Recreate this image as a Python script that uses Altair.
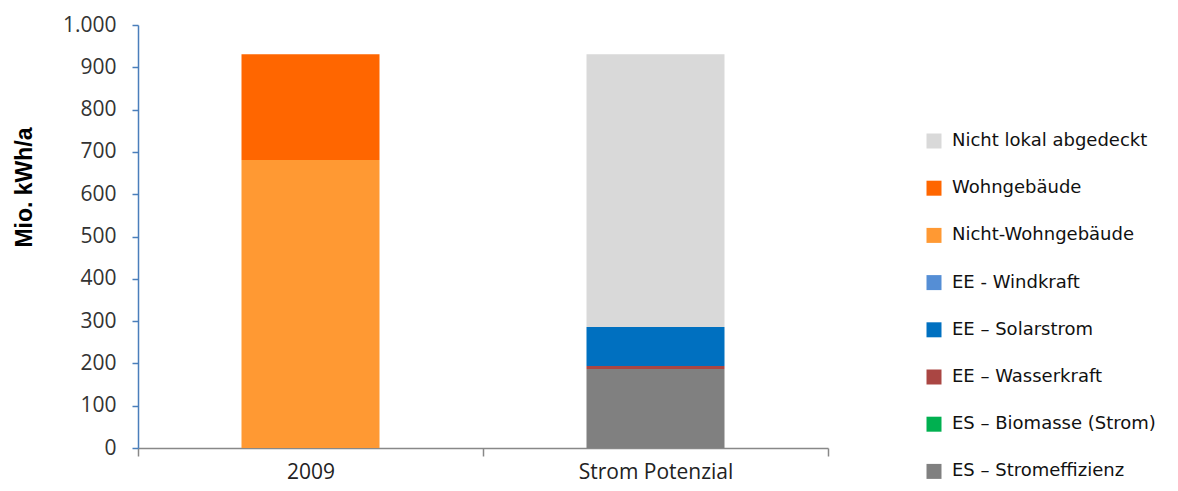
import altair as alt
import pandas as pd

categories = ["2009", "Strom Potenzial"]
series = ["Nicht lokal abgedeckt", "Wohngebäude", "Nicht-Wohngebäude", "EE - Windkraft",
          "EE – Solarstrom", "EE – Wasserkraft", "ES – Biomasse (Strom)", "ES – Stromeffizienz"]
colors = ["#d9d9d9", "#ff6600", "#ff9933", "#558ed5", "#0070c0", "#aa4643", "#00b050", "#808080"]
stack_rank = [7, 6, 5, 4, 3, 2, 1, 0]
values_2009 = [0, 250, 681, 0, 0, 0, 0, 0]
values_potenzial = [645, 0, 0, 0, 92, 7, 0, 187]

rows = []
for cat, vals in zip(categories, [values_2009, values_potenzial]):
    for s, v, r in zip(series, vals, stack_rank):
        rows.append({"Kategorie": cat, "Serie": s, "Wert": v, "rank": r})
df = pd.DataFrame(rows)

font_title = "Liberation Sans"
font_ticks = "Open Sans"
font_legend = "DejaVu Sans"

chart = alt.Chart(df).mark_bar(width=138).encode(
    x=alt.X("Kategorie:N", sort=categories,
            scale=alt.Scale(paddingInner=0, paddingOuter=0),
            axis=alt.Axis(title=None, labelAngle=0, labelFontSize=21, labelFont=font_ticks,
                          labelColor="#222", domainColor="#888888", tickColor="#888888",
                          tickSize=8, tickBand="extent", labelPadding=5, domainWidth=1.5,
                          tickWidth=1.5)),
    y=alt.Y("Wert:Q", stack="zero",
            scale=alt.Scale(domain=[0, 1000], nice=False),
            axis=alt.Axis(title="Mio. kWh/a", values=list(range(0, 1001, 100)),
                          labelExpr="replace(format(datum.value, ','), ',', '.')",
                          labelFontSize=21, labelFont=font_ticks, labelColor="#333",
                          domainColor="#4a7ebb", tickColor="#4a7ebb", tickSize=6,
                          labelPadding=16, grid=False, titleFont=font_title,
                          titleFontSize=23, titleFontWeight="bold", titleColor="#000",
                          titleAngle=-90, titleX=-114, titleY=162, titleAlign="center",
                          titleBaseline="middle", domainWidth=1.5, tickWidth=1.5)),
    color=alt.Color("Serie:N", scale=alt.Scale(domain=series, range=colors),
                    legend=alt.Legend(title=None, orient="none", legendX=787, legendY=107,
                                      symbolType="square", symbolSize=225,
                                      symbolStrokeWidth=0, labelFontSize=18,
                                      labelFont=font_legend, labelColor="#111",
                                      rowPadding=29.2, labelLimit=400, labelOffset=9)),
    order=alt.Order("rank:Q", sort="ascending"),
).properties(
    width=690, height=423,
    padding={"left": 130, "top": 17, "right": 340, "bottom": 35},
    autosize=alt.AutoSizeParams(type="none"),
).configure_view(stroke=None)

chart.save("out.html", embed_options={"renderer": "svg", "actions": False})
